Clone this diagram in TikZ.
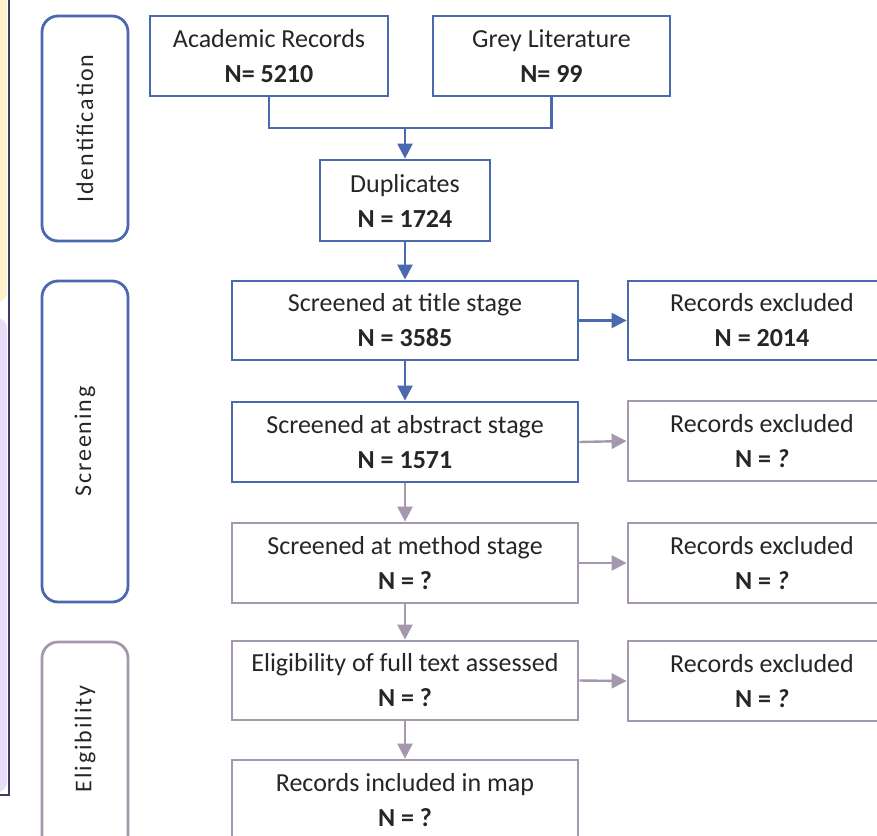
\documentclass[tikz,border=0pt]{standalone}
\usepackage{fontspec}
\setmainfont{Carlito}
\newfontfamily\phasefont[LetterSpace=8]{Carlito}
\usetikzlibrary{arrows.meta}
\definecolor{bl}{HTML}{4A69AE}
\definecolor{gp}{HTML}{A597AD}
\definecolor{txt}{HTML}{262626}
\definecolor{cream}{HTML}{FFF2CC}
\definecolor{lav}{HTML}{E9DDFA}
\definecolor{navy}{HTML}{3C3C6A}
\tikzset{
  x=1pt,y=-1pt,
  boxb/.style={draw=bl,line width=2.8pt,fill=white,text=txt,align=center,inner sep=0pt,
    font=\fontsize{26}{35}\selectfont},
  boxg/.style={boxb,draw=gp},
  phaseb/.style={draw=bl,line width=2.8pt,rounded corners=16pt,inner sep=0pt,text=txt,
    minimum width=86pt,font=\phasefont\fontsize{24}{28}\selectfont},
  phaseg/.style={phaseb,draw=gp},
  arrb/.style={draw=bl,line width=2.4pt,-{Triangle[width=15pt,length=15pt]}},
  arrg/.style={arrb,draw=gp},
  lineb/.style={draw=bl,line width=2.4pt},
}
\begin{document}
\begin{tikzpicture}
\useasboundingbox (0,0) rectangle (877,835);
\clip (0,0) rectangle (877,835);
% left strip
\fill[cream,rounded corners=10pt] (-40,-20) rectangle (7,302);
\fill[lav,rounded corners=10pt] (-40,318) rectangle (7,792);
\draw[navy,line width=2pt] (9,-5) -- (9,795) -- (-5,795);
% phase labels
\node[phaseb,minimum height=225pt] (pid) at (85,128.5) {};
\node[rotate=90,text=txt,font=\phasefont\fontsize{24}{28}\selectfont] (tid) at (pid.center) {Identification};
\node[phaseb,minimum height=321pt] (psc) at (85,441.5) {};
\node[rotate=90,text=txt,font=\phasefont\fontsize{24}{28}\selectfont] (tsc) at (psc.center) {Screening};
\node[phaseg,minimum height=230pt] (pel) at (85,757) {};
\node[rotate=90,text=txt,font=\phasefont\fontsize{24}{28}\selectfont] (tel) at (85,739) {Eligibility};
% boxes
\node[boxb,minimum width=238pt,minimum height=80pt] (acad) at (269,56) {Academic Records\\\textbf{N= 5210}};
\node[boxb,minimum width=237pt,minimum height=80pt] (grey) at (551.5,56) {Grey Literature\\\textbf{N= 99}};
\node[boxb,minimum width=170pt,minimum height=81pt] (dup) at (405,200.5) {Duplicates\\\textbf{N = 1724}};
\node[boxb,minimum width=346pt,minimum height=79pt] (title) at (405,320.5) {Screened at title stage\\\textbf{N = 3585}};
\node[boxb,minimum width=268pt,minimum height=79pt] (ex1) at (762,320.5) {Records excluded\\\textbf{N = 2014}};
\node[boxb,minimum width=346pt,minimum height=80pt] (abs) at (405,442) {Screened at abstract stage\\\textbf{N = 1571}};
\node[boxg,minimum width=268pt,minimum height=80pt] (ex2) at (762,441) {Records excluded\\\textbf{N = \textit{?}}};
\node[boxg,minimum width=346pt,minimum height=80pt] (meth) at (405,563) {Screened at method stage\\\textbf{N = ?}};
\node[boxg,minimum width=268pt,minimum height=80pt] (ex3) at (762,563) {Records excluded\\\textbf{N = \textit{?}}};
\node[boxg,minimum width=346pt,minimum height=79pt] (full) at (405,680.5) {Eligibility of full text assessed\\\textbf{N = ?}};
\node[boxg,minimum width=268pt,minimum height=80pt] (ex4) at (762,681) {Records excluded\\\textbf{N = \textit{?}}};
\node[boxg,minimum width=346pt,minimum height=80pt] (incl) at (405,800) {Records included in map\\\textbf{N = ?}};
% connectors
\coordinate (j) at (405,128);
\draw[lineb] (acad.south) |- (j) -| (grey.south);
\draw[arrb] (j) -- (dup.north);
\draw[arrb] (dup.south) -- (title.north);
\draw[arrb] (title.east) -- (ex1.west);
\draw[arrb] (title.south) -- (abs.north);
\draw[arrg] (abs.east) -- (ex2.west);
\draw[arrg] (abs.south) -- (meth.north);
\draw[arrg] (meth.east) -- (ex3.west);
\draw[arrg] (meth.south) -- (full.north);
\draw[arrg] (full.east) -- (ex4.west);
\draw[arrg] (full.south) -- (incl.north);
\end{tikzpicture}
\end{document}
